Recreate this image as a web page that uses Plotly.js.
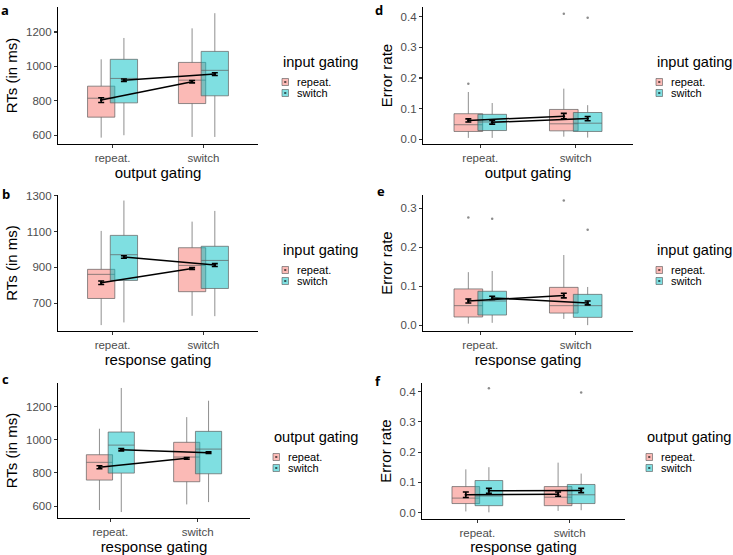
<!DOCTYPE html>
<html><head><meta charset="utf-8">
<script src="https://cdn.plot.ly/plotly-3.0.1.min.js"></script>
<style>html,body{margin:0;padding:0;background:#fff}#chart{width:733px;height:555px}</style>
</head><body><div id="chart"></div>
<script>
// ---------------- DATA ----------------
const categories = ['repeat.', 'switch'];      // x categories (both factors)
const groupLabels = ['repeat.', 'switch'];     // legend entries
// arrays are [group][category]; group 0 = "repeat." (red), group 1 = "switch" (teal)

// a: RTs, x = output gating, groups = input gating
const a_lower  = [[586, 590], [600, 590]];
const a_q1     = [[705, 784], [788, 829]];
const a_median = [[815, 920], [930, 977]];
const a_q3     = [[885, 1023], [1041, 1087]];
const a_upper  = [[1041, 1221], [1165, 1309]];
const a_mean   = [[804, 911], [920, 955]];
const a_se     = [[14, 7], [7, 8]];
const a_out    = [[[], []], [[], []]];

// b: RTs, x = response gating, groups = input gating
const b_lower  = [[577, 629], [592, 627]];
const b_q1     = [[726, 764], [827, 782]];
const b_median = [[861, 911], [971, 939]];
const b_q3     = [[889, 1010], [1079, 1018]];
const b_upper  = [[1104, 1156], [1274, 1216]];
const b_mean   = [[814, 894], [958, 913]];
const b_se     = [[10, 5], [7, 8]];
const b_out    = [[[], []], [[], []]];

// c: RTs, x = response gating, groups = output gating
const c_lower  = [[576, 610], [564, 624]];
const c_q1     = [[757, 747], [799, 795]];
const c_median = [[864, 896], [968, 944]];
const c_q3     = [[910, 985], [1047, 1051]];
const c_upper  = [[1067, 1137], [1313, 1236]];
const c_mean   = [[834, 888], [940, 922]];
const c_se     = [[9, 5], [7, 5]];
const c_out    = [[[], []], [[], []]];

// d: Error rate, x = output gating, groups = input gating
const d_lower  = [[0.004, 0.008], [0.004, 0.005]];
const d_q1     = [[0.025, 0.027], [0.028, 0.025]];
const d_median = [[0.047, 0.050], [0.056, 0.052]];
const d_q3     = [[0.083, 0.097], [0.081, 0.087]];
const d_upper  = [[0.154, 0.165], [0.118, 0.111]];
const d_mean   = [[0.061, 0.075], [0.055, 0.067]];
const d_se     = [[0.005, 0.009], [0.006, 0.007]];
const d_out    = [[[0.181], [0.410]], [[], [0.397]]];

// e: Error rate, x = response gating, groups = input gating
const e_lower  = [[0.004, 0.016], [0.006, 0.000]];
const e_q1     = [[0.021, 0.031], [0.026, 0.020]];
const e_median = [[0.050, 0.050], [0.062, 0.050]];
const e_q3     = [[0.093, 0.097], [0.087, 0.079]];
const e_upper  = [[0.136, 0.180], [0.139, 0.098]];
const e_mean   = [[0.062, 0.076], [0.070, 0.057]];
const e_se     = [[0.005, 0.006], [0.004, 0.005]];
const e_out    = [[[0.276], [0.320]], [[0.273], [0.245]]];

// f: Error rate, x = response gating, groups = output gating
const f_lower  = [[0.004, 0.006], [0.001, 0.008]];
const f_q1     = [[0.030, 0.023], [0.023, 0.030]];
const f_median = [[0.048, 0.051], [0.055, 0.059]];
const f_q3     = [[0.086, 0.086], [0.106, 0.093]];
const f_upper  = [[0.143, 0.165], [0.150, 0.129]];
const f_mean   = [[0.059, 0.061], [0.072, 0.073]];
const f_se     = [[0.009, 0.007], [0.008, 0.007]];
const f_out    = [[[], []], [[0.411], [0.397]]];

// ---------------- LAYOUT / STYLE ----------------
const W = 733, H = 555;
const px = v => v / W, py = v => 1 - v / H;
const fills = ['rgba(248,118,109,0.5)', 'rgba(0,191,196,0.5)'];
const dodge = [-0.125, 0.125];
const FONT = 'Liberation Sans, Arial, sans-serif';

const panels = [
  {label:'a', lower:a_lower, q1:a_q1, median:a_median, q3:a_q3, upper:a_upper, mean:a_mean, se:a_se, out:a_out,
   xTitle:'output gating', yTitle:'RTs (in ms)', legTitle:'input gating',
   box:[58,258,7,144], yrange:[549,1345], ytick:[600,800,1000,1200], fmt:'', leg:[282,62], lab:[0,0,'top']},
  {label:'d', lower:d_lower, q1:d_q1, median:d_median, q3:d_q3, upper:d_upper, mean:d_mean, se:d_se, out:d_out,
   xTitle:'output gating', yTitle:'Error rate', legTitle:'input gating',
   box:[423,633,7,144], yrange:[-0.016,0.432], ytick:[0,0.1,0.2,0.3,0.4], fmt:'.1f', leg:[656,62], lab:[374,0,'top']},
  {label:'b', lower:b_lower, q1:b_q1, median:b_median, q3:b_q3, upper:b_upper, mean:b_mean, se:b_se, out:b_out,
   xTitle:'response gating', yTitle:'RTs (in ms)', legTitle:'input gating',
   box:[58,258,195,331], yrange:[544,1305], ytick:[700,900,1100,1300], fmt:'', leg:[282,250], lab:[1,204,'bottom']},
  {label:'e', lower:e_lower, q1:e_q1, median:e_median, q3:e_q3, upper:e_upper, mean:e_mean, se:e_se, out:e_out,
   xTitle:'response gating', yTitle:'Error rate', legTitle:'input gating',
   box:[423,633,195,331], yrange:[-0.015,0.334], ytick:[0,0.1,0.2,0.3], fmt:'.1f', leg:[656,250], lab:[376,201,'bottom']},
  {label:'c', lower:c_lower, q1:c_q1, median:c_median, q3:c_q3, upper:c_upper, mean:c_mean, se:c_se, out:c_out,
   xTitle:'response gating', yTitle:'RTs (in ms)', legTitle:'output gating',
   box:[58,250,383,518], yrange:[528,1343], ytick:[600,800,1000,1200], fmt:'', leg:[273,437], lab:[1,389,'bottom']},
  {label:'f', lower:f_lower, q1:f_q1, median:f_median, q3:f_q3, upper:f_upper, mean:f_mean, se:f_se, out:f_out,
   xTitle:'response gating', yTitle:'Error rate', legTitle:'output gating',
   box:[422,625,383,519], yrange:[-0.021,0.428], ytick:[0,0.1,0.2,0.3,0.4], fmt:'.1f', leg:[646,437], lab:[374,391,'bottom']}
];

const data = [];
const layout = {
  width: W, height: H, margin: {l:0, r:0, t:0, b:0},
  paper_bgcolor: '#fff', plot_bgcolor: '#fff', showlegend: false,
  boxmode: 'overlay', font: {family: FONT},
  annotations: [], shapes: []
};

panels.forEach((p, k) => {
  const n = k + 1;
  const xr = 'x' + (n > 1 ? n : ''), yr = 'y' + (n > 1 ? n : '');
  const xk = 'xaxis' + (n > 1 ? n : ''), yk = 'yaxis' + (n > 1 ? n : '');
  const [x0, x1, y0, y1] = p.box;

  for (let g = 0; g < 2; g++) {
    const xs = categories.map((c, i) => i + 1 + dodge[g]);
    data.push({
      type: 'box', xaxis: xr, yaxis: yr, x: xs,
      lowerfence: p.lower[g], q1: p.q1[g], median: p.median[g], q3: p.q3[g], upperfence: p.upper[g],
      width: 0.3, whiskerwidth: 0, boxpoints: false,
      fillcolor: fills[g], line: {color: 'rgba(95,95,95,0.7)', width: 1},
      hoverinfo: 'skip', name: groupLabels[g]
    });
    const ox = [], oy = [];
    categories.forEach((c, i) => p.out[g][i].forEach(v => { ox.push(xs[i]); oy.push(v); }));
    if (ox.length) data.push({
      type: 'scatter', mode: 'markers', xaxis: xr, yaxis: yr, x: ox, y: oy,
      marker: {size: 2.5, color: '#8c8c8c'}, hoverinfo: 'skip'
    });
  }
  for (let g = 0; g < 2; g++) {
    const xs = categories.map((c, i) => i + 1 + dodge[g]);
    data.push({
      type: 'scatter', mode: 'lines+markers', xaxis: xr, yaxis: yr, x: xs, y: p.mean[g],
      line: {color: '#000', width: 1.5}, marker: {size: 2.5, color: '#000'},
      error_y: {type: 'data', array: p.se[g], visible: true, color: '#000', thickness: 1.6, width: 3},
      hoverinfo: 'skip'
    });
  }

  layout[xk] = {
    domain: [px(x0), px(x1)], anchor: yr, range: [0.4, 2.6],
    tickvals: categories.map((c, i) => i + 1), ticktext: categories,
    showgrid: false, zeroline: false, showline: true, linecolor: '#000', linewidth: 1.1,
    ticks: 'outside', ticklen: 3, tickwidth: 1.1, tickcolor: '#333',
    tickfont: {size: 11.5, color: '#4d4d4d', family: FONT},
    title: {text: p.xTitle, font: {size: 15, color: '#000', family: FONT}, standoff: 3}
  };
  layout[yk] = {
    domain: [py(y1), py(y0)], anchor: xr, range: p.yrange,
    tickvals: p.ytick, tickformat: p.fmt,
    showgrid: false, zeroline: false, showline: true, linecolor: '#000', linewidth: 1.1,
    ticks: 'outside', ticklen: 3, tickwidth: 1.1, tickcolor: '#333',
    tickfont: {size: 11.5, color: '#4d4d4d', family: FONT},
    title: {text: p.yTitle, font: {size: 15, color: '#000', family: FONT}, standoff: 4}
  };

  // panel label
  layout.annotations.push({
    xref: 'paper', yref: 'paper', x: px(p.lab[0]), y: py(p.lab[1]), xanchor: 'left', yanchor: p.lab[2],
    text: '<b>' + p.label + '</b>', showarrow: false, font: {size: 13, color: '#000', family: 'Open Sans, Liberation Sans, sans-serif'},
    borderpad: 0
  });
  // legend (drawn manually for ggplot-like compact spacing)
  const [lx, ly] = p.leg;
  layout.annotations.push({
    xref: 'paper', yref: 'paper', x: px(lx), y: py(ly), xanchor: 'left', yanchor: 'middle',
    text: p.legTitle, showarrow: false, font: {size: 14.6, color: '#000', family: FONT}, borderpad: 0
  });
  groupLabels.forEach((gl, g) => {
    const yy = ly + 20 + g * 11;
    layout.annotations.push({
      xref: 'paper', yref: 'paper', x: px(lx + 14), y: py(yy), xanchor: 'left', yanchor: 'middle',
      text: gl, showarrow: false, font: {size: 11, color: '#000', family: FONT}, borderpad: 0
    });
    layout.shapes.push({
      type: 'rect', xref: 'paper', yref: 'paper',
      x0: px(lx), x1: px(lx + 6.5), y0: py(yy + 3.5), y1: py(yy - 3.5),
      fillcolor: fills[g], line: {color: 'rgba(95,95,95,0.8)', width: 0.8}
    });
    layout.shapes.push({
      type: 'line', xref: 'paper', yref: 'paper',
      x0: px(lx + 2.2), x1: px(lx + 4.3), y0: py(yy), y1: py(yy),
      line: {color: '#000', width: 1.2}
    });
  });
});

Plotly.newPlot('chart', data, layout, {staticPlot: true});
</script>
</body></html>
